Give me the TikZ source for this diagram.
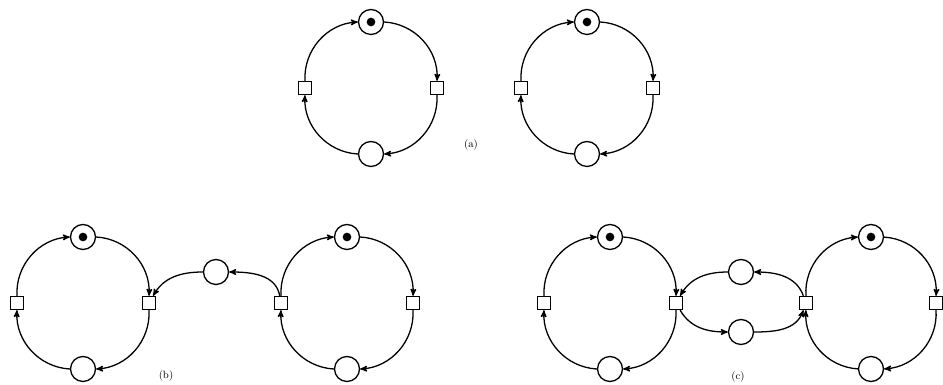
\documentclass[tikz,border=0pt]{standalone}
\usetikzlibrary{arrows, positioning}

\begin{document}
\begin{tikzpicture}[
    x=0.3mm, y=0.3mm,
    line width=1.1pt,
    >=stealth',
    place/.style={circle, draw, minimum size=7.5mm, inner sep=0pt},
    marked/.style={place, path picture={\fill (path picture bounding box.center) circle (1.3mm);}},
    trans/.style={rectangle, draw, minimum size=3.9mm, inner sep=0pt},
    flow/.style={->, bend left=45},
    lbl/.style={font=\small}
]
\useasboundingbox (0,0) rectangle (943,385);

% (a) two separate cycles
\node[marked] (a1p1) at (371,363) {};
\node[trans] (a1t1) at (437,297) {};
\node[place] (a1p2) at (371,231) {};
\node[trans] (a1t2) at (305,297) {};
\draw[flow] (a1t2) to (a1p1);
\draw[flow] (a1p1) to (a1t1);
\draw[flow] (a1t1) to (a1p2);
\draw[flow] (a1p2) to (a1t2);

\node[marked] (a2p1) at (587,363) {};
\node[trans] (a2t1) at (653,297) {};
\node[place] (a2p2) at (587,231) {};
\node[trans] (a2t2) at (521,297) {};
\draw[flow] (a2t2) to (a2p1);
\draw[flow] (a2p1) to (a2t1);
\draw[flow] (a2t1) to (a2p2);
\draw[flow] (a2p2) to (a2t2);

\node[lbl] (la) at (471,240) {(a)};

% (b) cycles joined by one place
\node[marked] (b1p1) at (83,148) {};
\node[trans] (b1t1) at (149,82) {};
\node[place] (b1p2) at (83,16) {};
\node[trans] (b1t2) at (17,82) {};
\draw[flow] (b1t2) to (b1p1);
\draw[flow] (b1p1) to (b1t1);
\draw[flow] (b1t1) to (b1p2);
\draw[flow] (b1p2) to (b1t2);

\node[marked] (b2p1) at (347,148) {};
\node[trans] (b2t1) at (413,82) {};
\node[place] (b2p2) at (347,16) {};
\node[trans] (b2t2) at (281,82) {};
\draw[flow] (b2t2) to (b2p1);
\draw[flow] (b2p1) to (b2t1);
\draw[flow] (b2t1) to (b2p2);
\draw[flow] (b2p2) to (b2t2);

\node[place] (bm) at (216,113) {};
\draw[->] (b2t2) to[out=100, in=0] (bm);
\draw[->] (bm) to[out=180, in=60] (b1t1);

\node[lbl] (lb) at (166,9) {(b)};

% (c) cycles joined by two places
\node[marked] (c1p1) at (610,148) {};
\node[trans] (c1t1) at (676,82) {};
\node[place] (c1p2) at (610,16) {};
\node[trans] (c1t2) at (544,82) {};
\draw[flow] (c1t2) to (c1p1);
\draw[flow] (c1p1) to (c1t1);
\draw[flow] (c1t1) to (c1p2);
\draw[flow] (c1p2) to (c1t2);

\node[marked] (c2p1) at (871,148) {};
\node[trans] (c2t1) at (936,82) {};
\node[place] (c2p2) at (871,16) {};
\node[trans] (c2t2) at (806,82) {};
\draw[flow] (c2t2) to (c2p1);
\draw[flow] (c2p1) to (c2t1);
\draw[flow] (c2t1) to (c2p2);
\draw[flow] (c2p2) to (c2t2);

\node[place] (cm1) at (741,113) {};
\node[place] (cm2) at (741,53) {};
\draw[->] (c2t2) to[out=110, in=0] (cm1);
\draw[->] (cm1) to[out=180, in=60] (c1t1);
\draw[->] (c1t1) to[out=-60, in=180] (cm2);
\draw[->] (cm2) to[out=0, in=-110] (c2t2);

\node[lbl] (lc) at (738,8) {(c)};
\end{tikzpicture}
\end{document}
